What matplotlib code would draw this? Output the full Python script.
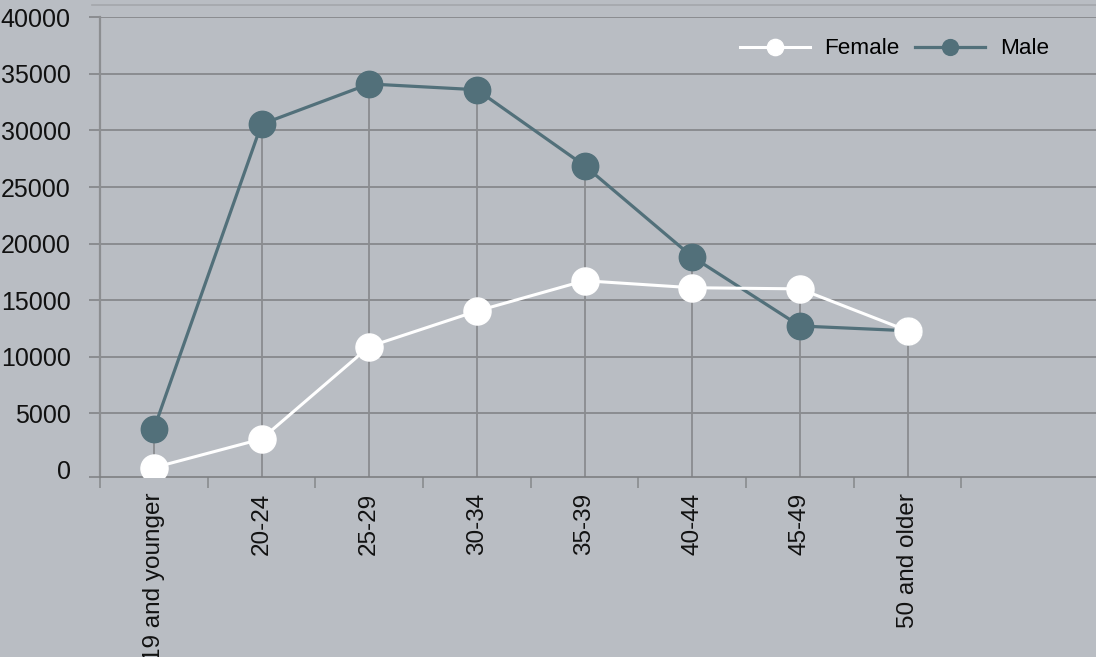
import matplotlib.pyplot as plt
from matplotlib.lines import Line2D
import numpy as np

# data
age_groups = ['19 and younger', '20-24', '25-29', '30-34', '35-39', '40-44', '45-49', '50 and older']
female = [200, 2730, 10900, 14040, 16720, 16100, 16000, 12300]
male = [3600, 30550, 34110, 33600, 26890, 18840, 12720, 12300]
y_ticks = list(range(0, 40001, 5000))

bg = '#b9bdc3'
male_col = '#52707a'
grid_col = '#7d7f82'
drop_col = '#8a8c8f'

plt.rcParams['font.family'] = ['Liberation Sans', 'DejaVu Sans']

fig = plt.figure(figsize=(10.96, 6.57), dpi=100, facecolor=bg)
ax = fig.add_axes([100 / 1096, 1 - 476.7 / 657, 1 - 100 / 1096, (476.7 - 17.3) / 657])
ax.set_facecolor(bg)

x = np.arange(len(age_groups))
y_bottom = -600

# drop lines from the highest point of each group down to the axis
tops = np.maximum(female, male)
ax.vlines(x, y_bottom, tops, color=drop_col, lw=1.3, zorder=2)

ax.plot(x, male, color=male_col, lw=2.3, marker='o', ms=19, label='Male', zorder=3)
ax.plot(x, female, color='white', lw=2.2, marker='o', ms=19.5, label='Female', zorder=4)

ax.set_xlim(-0.5, 8.75)
ax.set_ylim(y_bottom, 40000)

ax.set_yticks(y_ticks)
ax.set_yticks([y_bottom], minor=True)
ax.grid(axis='y', color=grid_col, lw=1.1, zorder=1)
ax.get_ygridlines()[0].set_visible(False)
ax.yaxis.get_major_ticks()[0].tick1line.set_visible(False)
ax.tick_params(axis='y', which='both', length=8, color=grid_col, width=1.1,
               pad=13, labelsize=18, labelcolor='#111111')

ax.set_xticks(x)
ax.set_xticklabels(age_groups, rotation=90)
ax.set_xticks(np.arange(-0.5, 8, 1), minor=True)
ax.tick_params(axis='x', which='major', length=0, pad=11.5, labelsize=17.5, labelcolor='#111111')
ax.tick_params(axis='x', which='minor', length=8, color=drop_col, width=1.2)

for side in ['top', 'right']:
    ax.spines[side].set_visible(False)
ax.spines['left'].set_color('#8c8e91')
ax.spines['left'].set_linewidth(1.6)
ax.spines['bottom'].set_color(grid_col)
ax.spines['bottom'].set_linewidth(1.2)

handles, labels = ax.get_legend_handles_labels()
fig.legend(handles[::-1], labels[::-1], loc='center right', bbox_to_anchor=(0.957, 1 - 49 / 657),
           ncol=2, frameon=False, fontsize=16.2, markerscale=0.6, handlelength=3.12,
           handletextpad=0.65, columnspacing=0.67, borderpad=0, borderaxespad=0)

# thin light line along the very top
fig.add_artist(Line2D([92 / 1096, 1], [1 - 5 / 657, 1 - 5 / 657], color='#a4a7ac', lw=1.2))

fig.savefig('out.png', dpi=100, facecolor=bg)
